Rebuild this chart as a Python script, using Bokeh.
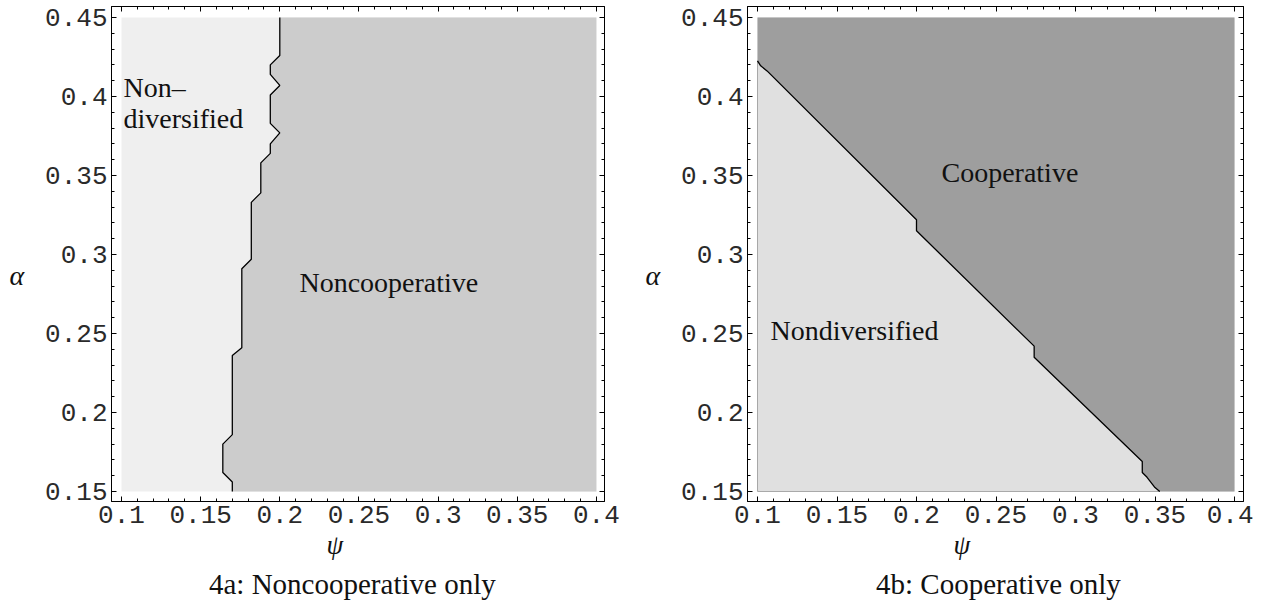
from bokeh.plotting import figure
from bokeh.layouts import row, column
from bokeh.models import FixedTicker, LinearAxis, Label, Range1d, Title, Div
from bokeh.embed import file_html
from bokeh.resources import INLINE

# ---- data -------------------------------------------------------------
psi_ticks = [0.1, 0.15, 0.2, 0.25, 0.3, 0.35, 0.4]
psi_tick_labels = ["0.1", "0.15", "0.2", "0.25", "0.3", "0.35", "0.4"]
alpha_ticks = [0.15, 0.2, 0.25, 0.3, 0.35, 0.4, 0.45]
alpha_tick_labels = ["0.15", "0.2", "0.25", "0.3", "0.35", "0.4", "0.45"]

psi_min, psi_max = 0.1, 0.4
alpha_min, alpha_max = 0.15, 0.45

# 4a boundary between Non-diversified and Noncooperative regions
nc_psi = [0.200, 0.200, 0.194, 0.194, 0.200, 0.194, 0.194, 0.200, 0.194, 0.194,
          0.188, 0.188, 0.182, 0.182, 0.176, 0.176, 0.170, 0.170, 0.164, 0.164,
          0.170, 0.170]
nc_alpha = [0.450, 0.426, 0.420, 0.414, 0.407, 0.401, 0.383, 0.377, 0.370, 0.364,
            0.358, 0.339, 0.333, 0.297, 0.291, 0.241, 0.236, 0.186, 0.180, 0.162,
            0.156, 0.150]

# 4b boundary between Nondiversified and Cooperative regions
coop_psi = [0.100, 0.102, 0.106, 0.200, 0.200, 0.274, 0.274, 0.342, 0.342,
            0.345, 0.350, 0.353]
coop_alpha = [0.4226, 0.4194, 0.4162, 0.322, 0.315, 0.242, 0.235, 0.169, 0.162,
              0.159, 0.1525, 0.150]

captions = ["4a: Noncooperative only", "4b: Cooperative only"]

psi_minor = [round(0.1 + 0.01 * i, 2) for i in range(31)]
alpha_minor = [round(0.15 + 0.01 * i, 2) for i in range(31)]

SERIF = "Liberation Serif"
MONO = "Liberation Mono"
H = 573


def style_axis(ax, ticks, labels, minor, show_labels=True):
    ax.ticker = FixedTicker(ticks=ticks, minor_ticks=minor)
    ax.major_tick_in = 5
    ax.major_tick_out = 0
    ax.minor_tick_in = 3
    ax.minor_tick_out = 0
    ax.axis_line_color = "black"
    ax.major_tick_line_color = "black"
    ax.minor_tick_line_color = "black"
    if show_labels:
        ax.major_label_overrides = {t: l for t, l in zip(ticks, labels)}
        ax.major_label_text_font = MONO
        ax.major_label_text_font_size = "26px"
        ax.major_label_text_color = "#2a2a2a"
        ax.major_label_standoff = 4
    else:
        ax.major_label_overrides = {t: "" for t in ticks}
        ax.major_label_text_font_size = "1px"
        ax.major_label_standoff = 0


def make_fig(width, left, right, x0, x1, psi_offset):
    p = figure(width=width, height=H,
               x_range=Range1d(x0, x1), y_range=Range1d(0.14367, 0.45696),
               output_backend="svg", toolbar_location=None,
               min_border_left=left, min_border_right=right,
               min_border_top=6, min_border_bottom=H - 501)
    p.grid.visible = False
    p.outline_line_color = "black"
    p.background_fill_color = "white"
    style_axis(p.xaxis[0], psi_ticks, psi_tick_labels, psi_minor)
    style_axis(p.yaxis[0], alpha_ticks, alpha_tick_labels, alpha_minor)
    ya = p.yaxis[0]
    ya.axis_label = "\nα"
    ya.axis_label_orientation = "horizontal"
    ya.axis_label_text_font = SERIF
    ya.axis_label_text_font_style = "italic"
    ya.axis_label_text_font_size = "28px"
    ya.axis_label_text_line_height = 1.4
    ya.axis_label_text_color = "#111111"
    ya.axis_label_standoff = 18
    top = LinearAxis()
    style_axis(top, psi_ticks, psi_tick_labels, psi_minor, show_labels=False)
    p.add_layout(top, "above")
    rgt = LinearAxis()
    style_axis(rgt, alpha_ticks, alpha_tick_labels, alpha_minor, show_labels=False)
    p.add_layout(rgt, "right")
    p.add_layout(Title(text="ψ", align="left", offset=psi_offset, standoff=4,
                       text_font=SERIF, text_font_size="27px",
                       text_font_style="italic", text_color="#111111"), "below")
    return p


def caption_div(text, width, pad):
    return Div(text=text, width=width, height=20,
               styles={"font-family": SERIF, "font-size": "29px",
                       "line-height": "12px", "color": "#111111",
                       "padding-left": f"{pad}px", "white-space": "nowrap",
                       "overflow": "visible", "box-sizing": "border-box"})


def add_text(p, x, y, text):
    p.add_layout(Label(x=x, y=y, text=text, text_font=SERIF,
                       text_font_size="28px", text_align="left",
                       text_baseline="alphabetic", text_color="#111111"))


# ---- 4a ----------------------------------------------------------------
p1 = make_fig(631, 111, 27, 0.09368, 0.40512, 215)
p1.quad(left=[psi_min], right=[psi_max], bottom=[alpha_min], top=[alpha_max],
        fill_color="#efefef", line_color=None)
p1.patch(nc_psi + [psi_max, psi_max], nc_alpha + [alpha_min, alpha_max],
         fill_color="#cccccc", line_color=None)
p1.line(nc_psi, nc_alpha, line_color="black", line_width=1.3)
add_text(p1, 0.1013, 0.4054, "Non–")
add_text(p1, 0.1013, 0.3861, "diversified")
add_text(p1, 0.2124, 0.2825, "Noncooperative")

# ---- 4b ----------------------------------------------------------------
p2 = make_fig(622, 116, 10, 0.09371, 0.40566, 206)
p2.quad(left=[psi_min], right=[psi_max], bottom=[alpha_min], top=[alpha_max],
        fill_color="#e0e0e0", line_color=None)
p2.line([coop_psi[0], psi_min, coop_psi[-1]], [coop_alpha[0], alpha_min, alpha_min],
        line_color="#a8a8a8", line_width=1)
p2.patch(coop_psi + [psi_max, psi_max, psi_min],
         coop_alpha + [alpha_min, alpha_max, alpha_max],
         fill_color="#9e9e9e", line_color=None)
p2.line(coop_psi, coop_alpha, line_color="black", line_width=1.3)
add_text(p2, 0.2157, 0.3519, "Cooperative")
add_text(p2, 0.1082, 0.2519, "Nondiversified")

d1 = caption_div(captions[0], 631, 204)
d2 = caption_div(captions[1], 622, 230)

layout = column(row(p1, p2), row(d1, d2))
open("out.html", "w").write(file_html(layout, INLINE))
